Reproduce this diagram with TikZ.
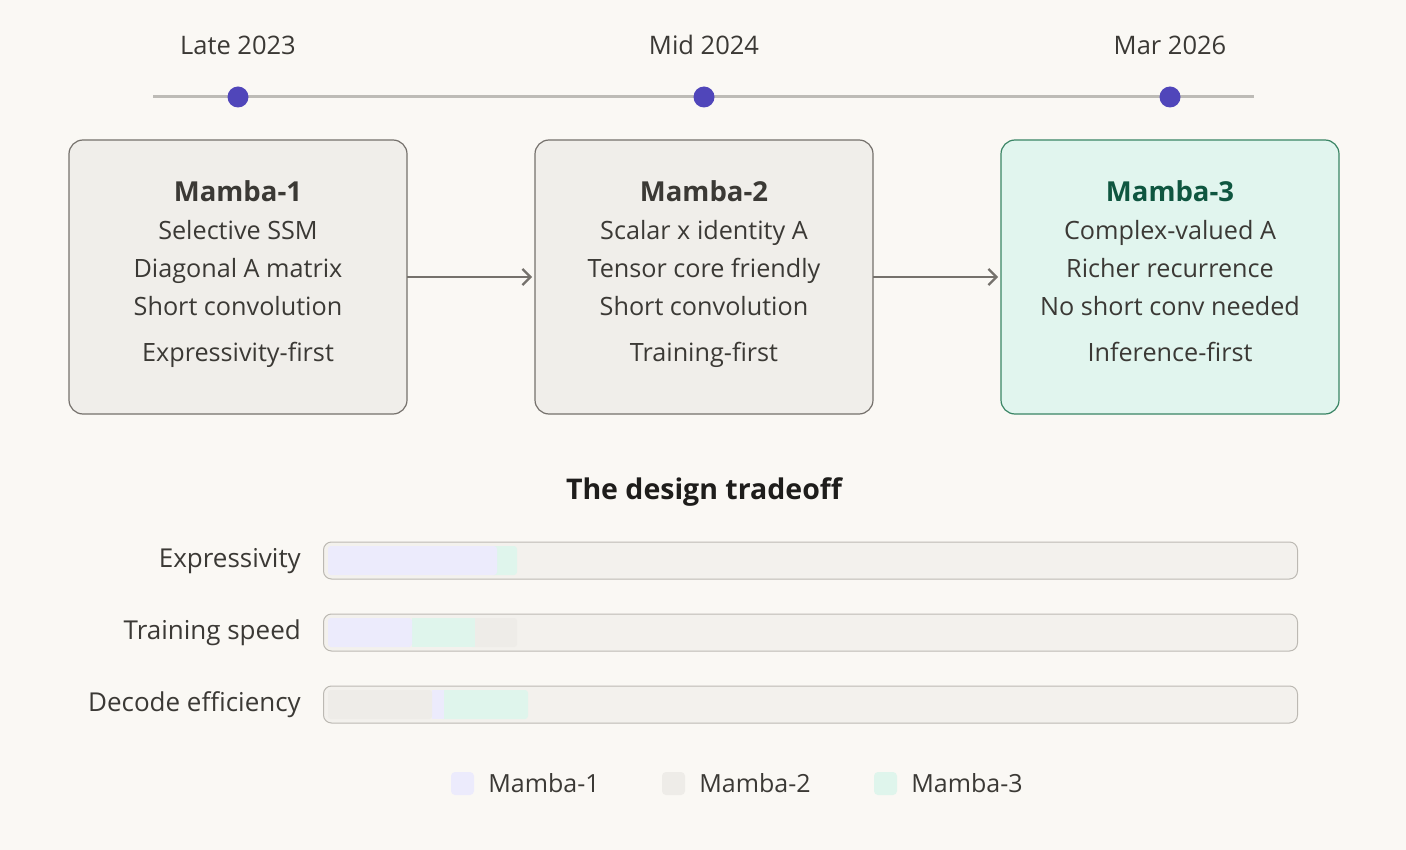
\documentclass[tikz,border=0pt]{standalone}
\usepackage{fontspec}
\setmainfont{Open Sans}
\usetikzlibrary{arrows.meta,positioning}
\definecolor{paper}{HTML}{FAF8F4}
\definecolor{ink}{HTML}{3B3935}
\definecolor{headink}{HTML}{1E1D1B}
\definecolor{rule}{HTML}{BDBBB6}
\definecolor{dotblue}{HTML}{5046BA}
\definecolor{cardfill}{HTML}{F0EEEA}
\definecolor{cardline}{HTML}{75716C}
\definecolor{mintfill}{HTML}{E1F5EE}
\definecolor{mintline}{HTML}{3A8565}
\definecolor{mintink}{HTML}{0F5640}
\definecolor{lav}{HTML}{ECEBFC}
\definecolor{greyseg}{HTML}{EEECE8}
\definecolor{mint}{HTML}{DFF5EC}
\definecolor{track}{HTML}{F3F1ED}
\definecolor{trackline}{HTML}{BCB9B3}
\tikzset{>={Straight Barb[length=8pt,width=16pt]},
  card/.style={draw=cardline, fill=cardfill, line width=1.2pt, rounded corners=14pt,
    minimum width=338pt, minimum height=274pt, outer sep=0pt},
  cardtext/.style={align=center, text=ink, font=\fontsize{25.2}{38}\selectfont, inner sep=0pt, anchor=north},
  year/.style={text=ink, font=\fontsize{25.5}{28}\selectfont, anchor=base},
  dot/.style={circle, fill=dotblue, minimum size=21pt, inner sep=0pt},
  bar/.style={draw=trackline, fill=track, line width=1pt, rounded corners=8pt,
    minimum width=974pt, minimum height=37pt, anchor=west},
  barlabel/.style={text=ink, font=\fontsize{26}{28}\selectfont, anchor=base east, inner sep=0pt},
  key/.style={minimum size=23pt, rounded corners=4pt, inner sep=0pt},
  keylabel/.style={text=ink, font=\fontsize{25}{28}\selectfont, inner sep=0pt},
}
\newcommand{\cardtitle}[1]{{\fontsize{27.5}{38}\selectfont\bfseries #1}}

\begin{document}
\begin{tikzpicture}[x=1pt, y=-1pt]
    \fill[paper] (0,0) rectangle (1406,850);
    \useasboundingbox (0,0) rectangle (1406,850);
    % timeline
    \coordinate (tl0) at (153,97);
    \coordinate (tl1) at (1254,97);
    \draw[rule, line width=3pt] (tl0) -- (tl1);
    \node[dot] (d1) at (238,97) {};
    \node[dot] (d2) at (704,97) {};
    \node[dot] (d3) at (1170,97) {};
    \node[year] (y1) at (238,55) {Late 2023};
    \node[year] (y2) at (704,55) {Mid 2024};
    \node[year] (y3) at (1170,55) {Mar 2026};
    % cards
    \node[card] (m1) at (238,277) {};
    \node[card, right=128pt of m1] (m2) {};
    \node[card, draw=mintline, fill=mintfill, right=128pt of m2] (m3) {};
    \node[cardtext] (m1t) at ([yshift=-40pt]m1.north)
        {\cardtitle{Mamba-1}\\ Selective SSM\\ Diagonal A matrix\\ Short convolution\\[8pt] Expressivity-first};
    \node[cardtext] (m2t) at ([yshift=-40pt]m2.north)
        {\cardtitle{Mamba-2}\\ Scalar x identity A\\ Tensor core friendly\\ Short convolution\\[8pt] Training-first};
    \node[cardtext] (m3t) at ([yshift=-40pt]m3.north)
        {\cardtitle{\textcolor{mintink}{Mamba-3}}\\ Complex-valued A\\ Richer recurrence\\ No short conv needed\\[8pt] Inference-first};
    \draw[->, cardline, line width=2.2pt, shorten >=3pt] (m1) -- (m2);
    \draw[->, cardline, line width=2.2pt, shorten >=3pt] (m2) -- (m3);
    % tradeoff bars
    \node[text=headink, font=\fontsize{28.5}{32}\selectfont\bfseries, anchor=base] (head) at (704,499) {The design tradeoff};
    \node[bar] (b1) at (323,560.5) {};
    \node[bar] (b2) at (323,632.5) {};
    \node[bar] (b3) at (323,704.5) {};
    \node[barlabel] (l1) at (301,567) {Expressivity};
    \node[barlabel] (l2) at (301,639) {Training speed};
    \node[barlabel] (l3) at (301,711) {Decode efficiency};
    \fill[mint, rounded corners=3pt] (490,546) rectangle (517,575);
    \fill[lav, rounded corners=3pt] (328,546) rectangle (497,575);
    \fill[greyseg, rounded corners=3pt] (470,618) rectangle (517,647);
    \fill[mint] (412,618) rectangle (475,647);
    \fill[lav, rounded corners=3pt] (328,618) rectangle (412,647);
    \fill[mint, rounded corners=3pt] (440,690) rectangle (528,719);
    \fill[lav] (432,690) rectangle (444,719);
    \fill[greyseg, rounded corners=3pt] (328,690) rectangle (432,719);
    % legend
    \node[key, fill=lav] (k1) at (462.5,783.5) {};
    \node[key, fill=greyseg] (k2) at (673.5,783.5) {};
    \node[key, fill=mint] (k3) at (885.5,783.5) {};
    \node[keylabel, right=14pt of k1] (k1t) {Mamba-1};
    \node[keylabel, right=14pt of k2] (k2t) {Mamba-2};
    \node[keylabel, right=14pt of k3] (k3t) {Mamba-3};
\end{tikzpicture}
\end{document}
